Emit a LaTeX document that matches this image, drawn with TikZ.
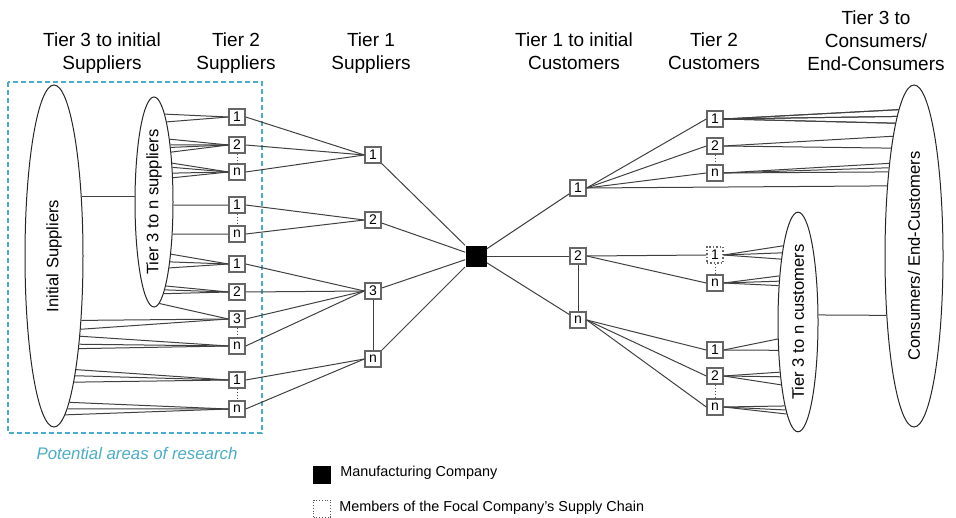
\documentclass[tikz,border=0pt]{standalone}
\usepackage{graphicx}
\usepackage{fontspec}
\setmainfont{Liberation Sans}
\usetikzlibrary{shapes.geometric}
\definecolor{researchcyan}{RGB}{75,172,198}

\begin{document}
\begin{tikzpicture}[x=0.5pt, y=-0.5pt,
        member/.style={draw=black!60, fill=white, line width=0.7pt, minimum size=8pt, inner sep=0pt, font=\fontsize{7}{8}\selectfont},
        focal/.style={member, densely dotted},
        link/.style={black!75, line width=0.5pt},
        tierlink/.style={black!70, densely dotted, line width=0.5pt},
        group/.style={draw=black!85, ellipse, inner sep=0pt, line width=0.5pt, font=\fontsize{8.3}{10}\selectfont},
        heading/.style={anchor=north, inner sep=0pt, align=center, font=\fontsize{9.5}{11.5}\selectfont}]

        \useasboundingbox (0,0) rectangle (956,518);

        % Headings
        \node[heading] (hsup3) at (102,32.5) {Tier 3 to initial\\Suppliers};
        \node[heading] (hsup2) at (236,32.5) {Tier 2\\Suppliers};
        \node[heading] (hsup1) at (371,32.5) {Tier 1\\Suppliers};
        \node[heading] (hcus1) at (574,32.5) {Tier 1 to initial\\Customers};
        \node[heading] (hcus2) at (714,32.5) {Tier 2\\Customers};
        \node[heading] (hcus3) at (876,10) {Tier 3 to\\Consumers/\\End-Consumers};

        % Potential areas of research
        \draw[researchcyan, line width=0.6pt, dash pattern=on 2.5pt off 1.5pt] (8,82) rectangle (262,433);
        \node[researchcyan, font=\fontsize{8.4}{10}\selectfont\itshape] (research) at (137,453) {Potential areas of research};

        % Supplier groups
        \node[group, minimum width=29pt, minimum height=171pt] (is) at (54,256) {\rotatebox{90}{Initial Suppliers}};
        \node[group, minimum width=19pt, minimum height=105pt] (ts) at (154,202) {\rotatebox{90}{Tier 3 to n suppliers}};

        % Customer groups
        \node[group, minimum width=20pt, minimum height=104pt] (tc) at (798,322) {\rotatebox{90}{Tier 3 to n customers}};
        \node[group, minimum width=29pt, minimum height=171pt] (ce) at (914,256) {\rotatebox{90}{Consumers/ End-Customers}};

        % Tier 2 and tier 1 suppliers
        \foreach \name/\txt/\y in {s2a/1/117, s2b/2/145, s2c/n/172, s2d/1/205, s2e/n/234, s2f/1/264, s2g/2/292, s2h/3/319, s2i/n/346, s2j/1/380, s2k/n/409}
            \node[member] (\name) at (237,\y) {\txt};
        \foreach \name/\txt/\y in {s1a/1/155, s1b/2/220, s1c/3/291, s1d/n/359}
            \node[member] (\name) at (373,\y) {\txt};

        % Manufacturing company
        \node[fill=black, minimum size=10.5pt, inner sep=0pt] (mc) at (476,256) {};

        % Tier 1 and tier 2 customers
        \foreach \name/\txt/\y in {c1a/1/188, c1b/2/256, c1c/n/320}
            \node[member] (\name) at (578,\y) {\txt};
        \foreach \name/\txt/\y in {c2a/1/119, c2b/2/146, c2c/n/173, c2e/n/283, c2f/1/350, c2g/2/376, c2h/n/407}
            \node[member] (\name) at (715,\y) {\txt};
        \node[focal] (c2d) at (715,255) {1};

        % Links inside a tier
        \foreach \a/\b in {s2b/s2c, s2d/s2e, s2h/s2i, s2j/s2k, c2b/c2c, c2d/c2e, c2g/c2h}
            \draw[tierlink] (\a) -- (\b);
        \draw[link] (s1c) -- (s1d);
        \draw[link] (c1b) -- (c1c);

        % Supplier ellipses to tier 2 suppliers
        \draw[link] (is.65.6) -- (is.65.6 -| ts.west);
        \foreach \ang/\b in {83.8/s2a, 81.0/s2a, 76.1/s2b, 74.7/s2b, 73.2/s2b, 71.5/s2b, 65.7/s2c, 62.1/s2c, 57.8/s2c, 52.4/s2c, -9/s2d, -60.5/s2e, -72.8/s2f, -75.7/s2f, -77.7/s2f, -82.0/s2g, -83.3/s2g, -84.6/s2g, -87.1/s2h}
            \draw[link] (ts.\ang) -- (\b.west);
        \foreach \ang/\b in {-67.2/s2h, -70.0/s2h, -72.5/s2i, -74.4/s2i, -75.8/s2i, -79.7/s2j, -80.5/s2j, -81.6/s2j, -84.5/s2k, -85.3/s2k, -86.4/s2k}
            \draw[link] (is.\ang) -- (\b.west);

        % Tier 2 to tier 1 to manufacturer
        \foreach \a/\b in {s2a/s1a, s2b/s1a, s2c/s1a, s2d/s1b, s2e/s1b, s2f/s1c, s2g/s1c, s2h/s1c, s2i/s1c, s2j/s1d, s2k/s1d}
            \draw[link] (\a.east) -- (\b.west);
        \foreach \a in {s1a, s1b, s1c, s1d}
            \draw[link] (\a) -- (mc);

        % Manufacturer to tier 1 to tier 2 customers
        \foreach \b in {c1a, c1b, c1c}
            \draw[link] (mc) -- (\b);
        \foreach \a/\b in {c1a/c2a, c1a/c2b, c1a/c2c, c1b/c2d, c1b/c2e, c1c/c2f, c1c/c2g, c1c/c2h}
            \draw[link] (\a.east) -- (\b.west);
        \draw[link] (c1a.east) -- (ce.111.0);

        % Tier 2 customers to customer ellipses
        \foreach \a/\ang in {c2a/96.2, c2a/96.6, c2a/97.1, c2a/97.5, c2a/98.1, c2a/98.5, c2b/100.9, c2b/102.1, c2c/105.6, c2c/106.5, c2c/107.5}
            \draw[link] (\a.east) -- (ce.\ang);
        \foreach \a/\ang in {c2d/101.9, c2d/103.5, c2d/105.2, c2e/112.9, c2e/115.4, c2e/118.2, c2f/220.8, c2f/235.4, c2g/250.2, c2g/252.8, c2g/255.1, c2h/261.0, c2h/262.3, c2h/263.7}
            \draw[link] (\a.east) -- (tc.\ang);
        \draw[link] (tc.19.3) -- (ce.245.25);

        % Legend
        \node[fill=black, minimum size=9pt, inner sep=0pt] (legmc) at (322,475) {};
        \node[anchor=west, inner sep=0pt, font=\fontsize{7.2}{9}\selectfont] (legmctext) at (340,473) {Manufacturing Company};
        \node[draw=black!65, densely dotted, minimum size=8.5pt, inner sep=0pt] (legfocal) at (322,508.5) {};
        \node[anchor=west, inner sep=0pt, font=\fontsize{7.2}{9}\selectfont] (legfocaltext) at (339,508) {Members of the Focal Company’s Supply Chain};

\end{tikzpicture}
\end{document}
